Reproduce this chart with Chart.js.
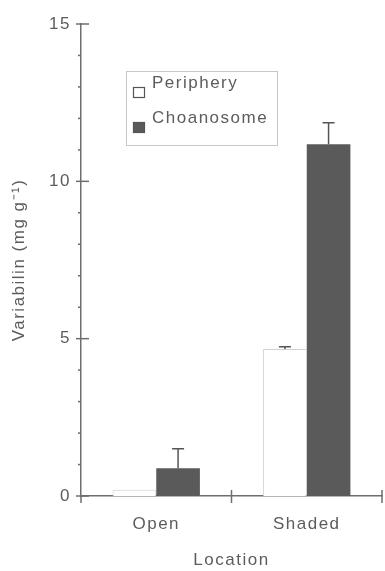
<!DOCTYPE html>
<html>
<head>
<meta charset="utf-8">
<script src="https://cdn.jsdelivr.net/npm/chart.js@4/dist/chart.umd.min.js"></script>
<style>
  html, body { margin: 0; padding: 0; background: #fff; }
  #wrap { width: 385px; height: 571px; position: relative; }
</style>
</head>
<body>
<div id="wrap"><canvas id="c" width="385" height="571"></canvas></div>
<script>
// Variabilin content by location and tissue
const locations = ['Open', 'Shaded'];
const seriesNames = ['Periphery', 'Choanosome'];
const peripheryValues = [0.2, 4.67];
const peripheryErrors = [0, 0.07];
const choanosomeValues = [0.88, 11.18];
const choanosomeErrors = [0.62, 0.68];
const yTickLabels = [0, 5, 10, 15];

const INK = '#5a5a5a';
const TEXT = '#5c5c5c';
const AXIS = '#6e6e6e';
const FONT = '"Liberation Sans", Arial, sans-serif';
const SIZE = 17;
const SPACING = '1.5px';

// Slightly spaced lettering for all canvas text
const spacing = {
  id: 'spacing',
  beforeLayout(chart) { chart.ctx.letterSpacing = SPACING; },
  beforeDraw(chart) { chart.ctx.letterSpacing = SPACING; }
};

// Upward error bars with a cap, placed from the bar elements
const errorBars = {
  id: 'errorBars',
  afterDatasetsDraw(chart) {
    const ctx = chart.ctx;
    const y = chart.scales.y;
    ctx.save();
    ctx.strokeStyle = '#555';
    ctx.lineWidth = 1.5;
    chart.data.datasets.forEach((ds, di) => {
      const meta = chart.getDatasetMeta(di);
      meta.data.forEach((bar, i) => {
        const err = ds.errors[i];
        if (!err) return;
        const top = y.getPixelForValue(ds.data[i] + err);
        ctx.beginPath();
        ctx.moveTo(bar.x, bar.y);
        ctx.lineTo(bar.x, top);
        ctx.moveTo(bar.x - 6, top);
        ctx.lineTo(bar.x + 6, top);
        ctx.stroke();
      });
    });
    ctx.restore();
  }
};

// Axis tick marks: long crossing ticks at labelled values, short ones elsewhere
const axisTicks = {
  id: 'axisTicks',
  afterDraw(chart) {
    const ctx = chart.ctx;
    const ys = chart.scales.y, xs = chart.scales.x;
    const area = chart.chartArea;
    ctx.save();
    ctx.strokeStyle = AXIS;
    ctx.lineWidth = 1.5;
    ys.ticks.forEach(t => {
      const py = ys.getPixelForValue(t.value);
      const major = yTickLabels.includes(t.value);
      ctx.beginPath();
      ctx.moveTo(area.left - (major ? 5 : 3), py);
      ctx.lineTo(area.left + (major ? 8 : 0), py);
      ctx.stroke();
    });
    // category boundaries on the x axis
    const n = locations.length;
    for (let k = 0; k <= n; k++) {
      const px = k === n ? area.right : (k === 0 ? area.left : (xs.getPixelForValue(k - 1) + xs.getPixelForValue(k)) / 2);
      ctx.beginPath();
      ctx.moveTo(px, area.bottom - (k === 0 ? 0 : 6));
      ctx.lineTo(px, area.bottom + 7);
      ctx.stroke();
    }
    ctx.restore();
  }
};

// Boxed legend inside the plot
const boxLegend = {
  id: 'boxLegend',
  afterDraw(chart) {
    const ctx = chart.ctx;
    ctx.save();
    ctx.letterSpacing = SPACING;
    ctx.strokeStyle = '#c8c8c8';
    ctx.lineWidth = 1;
    ctx.strokeRect(126.5, 71.5, 151, 74);
    ctx.font = SIZE + 'px ' + FONT;
    ctx.textBaseline = 'middle';
    ctx.textAlign = 'left';
    const rows = [92, 127];
    chart.data.datasets.forEach((ds, i) => {
      const cy = rows[i];
      ctx.fillStyle = ds.backgroundColor;
      ctx.fillRect(133, cy - 5, 12, 11);
      ctx.strokeStyle = '#555';
      ctx.lineWidth = 1.2;
      ctx.strokeRect(133.5, cy - 4.5, 11, 10);
      ctx.fillStyle = TEXT;
      ctx.fillText(ds.label, 152, cy - 9);
    });
    ctx.restore();
  }
};

new Chart(document.getElementById('c'), {
  type: 'bar',
  data: {
    labels: locations,
    datasets: [
      { label: seriesNames[0], data: peripheryValues, errors: peripheryErrors,
        backgroundColor: '#ffffff', borderColor: '#d0d0d0', borderWidth: 1 },
      { label: seriesNames[1], data: choanosomeValues, errors: choanosomeErrors,
        backgroundColor: INK, borderColor: INK, borderWidth: 0 }
    ]
  },
  options: {
    responsive: false,
    animation: false,
    devicePixelRatio: 1,
    layout: { padding: { top: 24, right: 3, left: 5, bottom: 0 } },
    datasets: { bar: { categoryPercentage: 0.58, barPercentage: 1 } },
    plugins: { legend: { display: false }, tooltip: { enabled: false } },
    scales: {
      x: {
        grid: { display: false, drawTicks: false },
        border: { display: true, color: AXIS, width: 1.5 },
        ticks: { color: TEXT, font: { family: FONT, size: SIZE }, padding: 18 },
        title: { display: true, text: 'Location', color: TEXT, font: { family: FONT, size: SIZE }, padding: { top: 10, bottom: 0 } },
        afterFit(s) { s.height = 75; }
      },
      y: {
        min: 0, max: 15,
        grid: { display: false, drawTicks: false },
        border: { display: true, color: AXIS, width: 1.5 },
        ticks: {
          stepSize: 1, color: TEXT, font: { family: FONT, size: SIZE }, padding: 10,
          autoSkip: false,
          callback: v => yTickLabels.includes(v) ? String(v) : ''
        },
        title: { display: true, text: 'Variabilin (mg g\u207B\u00B9)', color: TEXT, font: { family: FONT, size: SIZE }, padding: { bottom: 2 } },
        afterFit(s) { s.width = 76; }
      }
    }
  },
  plugins: [spacing, errorBars, axisTicks, boxLegend]
});
</script>
</body>
</html>
